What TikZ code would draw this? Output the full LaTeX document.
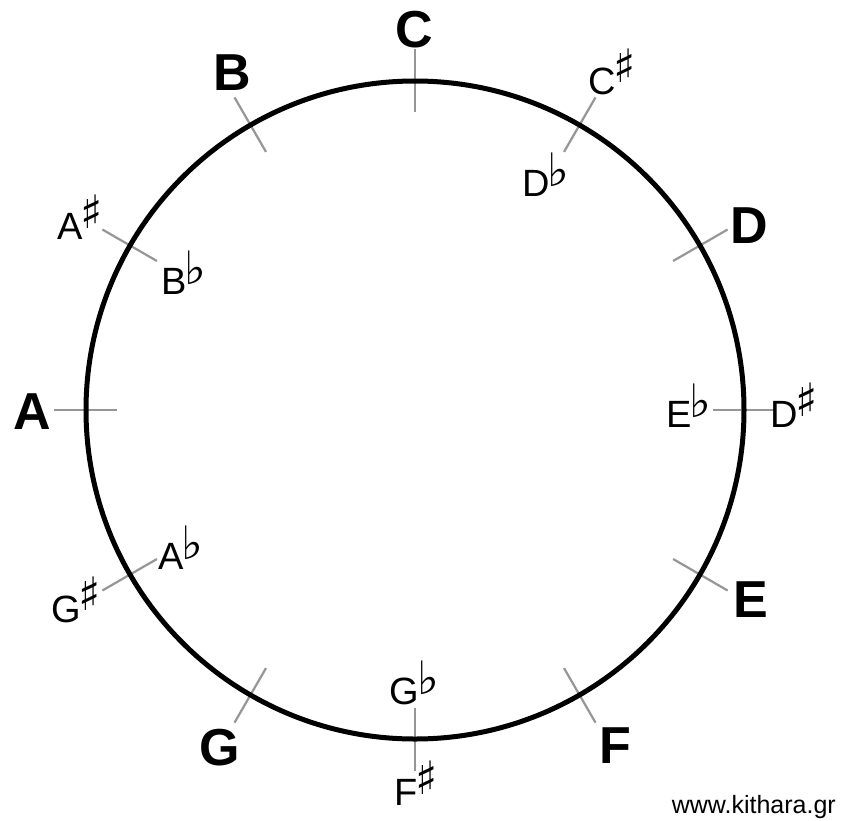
\documentclass[tikz,border=0pt]{standalone}
\usepackage{fontspec}
\setmainfont{Liberation Sans}
\newfontfamily\symfont{DejaVu Sans}
\newcommand{\shp}{\raisebox{0.30em}{\symfont\fontsize{46}{46}\selectfont\kern-0.06em ♯}}
\newcommand{\flt}{\raisebox{0.26em}{\symfont\fontsize{46}{46}\selectfont\kern-0.04em ♭}}
\definecolor{tickgray}{RGB}{150,150,150}
\tikzset{
  natural/.style={font=\fontsize{52}{52}\selectfont\bfseries, inner sep=0pt},
  accid/.style={font=\fontsize{38}{38}\selectfont, inner sep=0pt},
  tickline/.style={draw=tickgray, line width=2.2pt},
  ring/.style={draw=black, line width=5pt, circle, minimum size=658pt, inner sep=0pt},
}
\begin{document}
\begin{tikzpicture}[x=1pt,y=-1pt]
\useasboundingbox (0,0) rectangle (841,820);
\fill[white] (0,0) rectangle (841,820);
% ticks
\foreach \k in {0,...,11} {
  \pgfmathsetmacro{\ang}{90-30*\k}
  \coordinate (ti\k) at ({415+298*cos(\ang)},{410-298*sin(\ang)});
  \coordinate (to\k) at ({415+361*cos(\ang)},{410-361*sin(\ang)});
  \draw[tickline] (ti\k) -- (to\k);
}
\node[ring] (circ) at (415,410) {};
% naturals
\node[natural] (C) at (414,30) {C};
\node[natural] (B) at (232,73) {B};
\node[natural] (D) at (749,226) {D};
\node[natural] (E) at (751,600) {E};
\node[natural] (F) at (615,746) {F};
\node[natural] (G) at (220,748) {G};
\node[natural] (A) at (32,412) {A};
% accidentals
\node[accid] (Cs) at (612,72) {C\shp};
\node[accid] (Db) at (546,175) {D\flt};
\node[accid] (As) at (80,217) {A\shp};
\node[accid] (Bb) at (184,273) {B\flt};
\node[accid] (Eb) at (689,406) {E\flt};
\node[accid] (Ds) at (794,405) {D\shp};
\node[accid] (Ab) at (181,548) {A\flt};
\node[accid] (Gs) at (76,600) {G\shp};
\node[accid] (Gb) at (414,683) {G\flt};
\node[accid] (Fs) at (416,783) {F\shp};
% credit
\node[font=\fontsize{25}{25}\selectfont, anchor=base east, inner sep=0pt] (url) at (836,813) {www.kithara.gr};
\end{tikzpicture}
\end{document}
